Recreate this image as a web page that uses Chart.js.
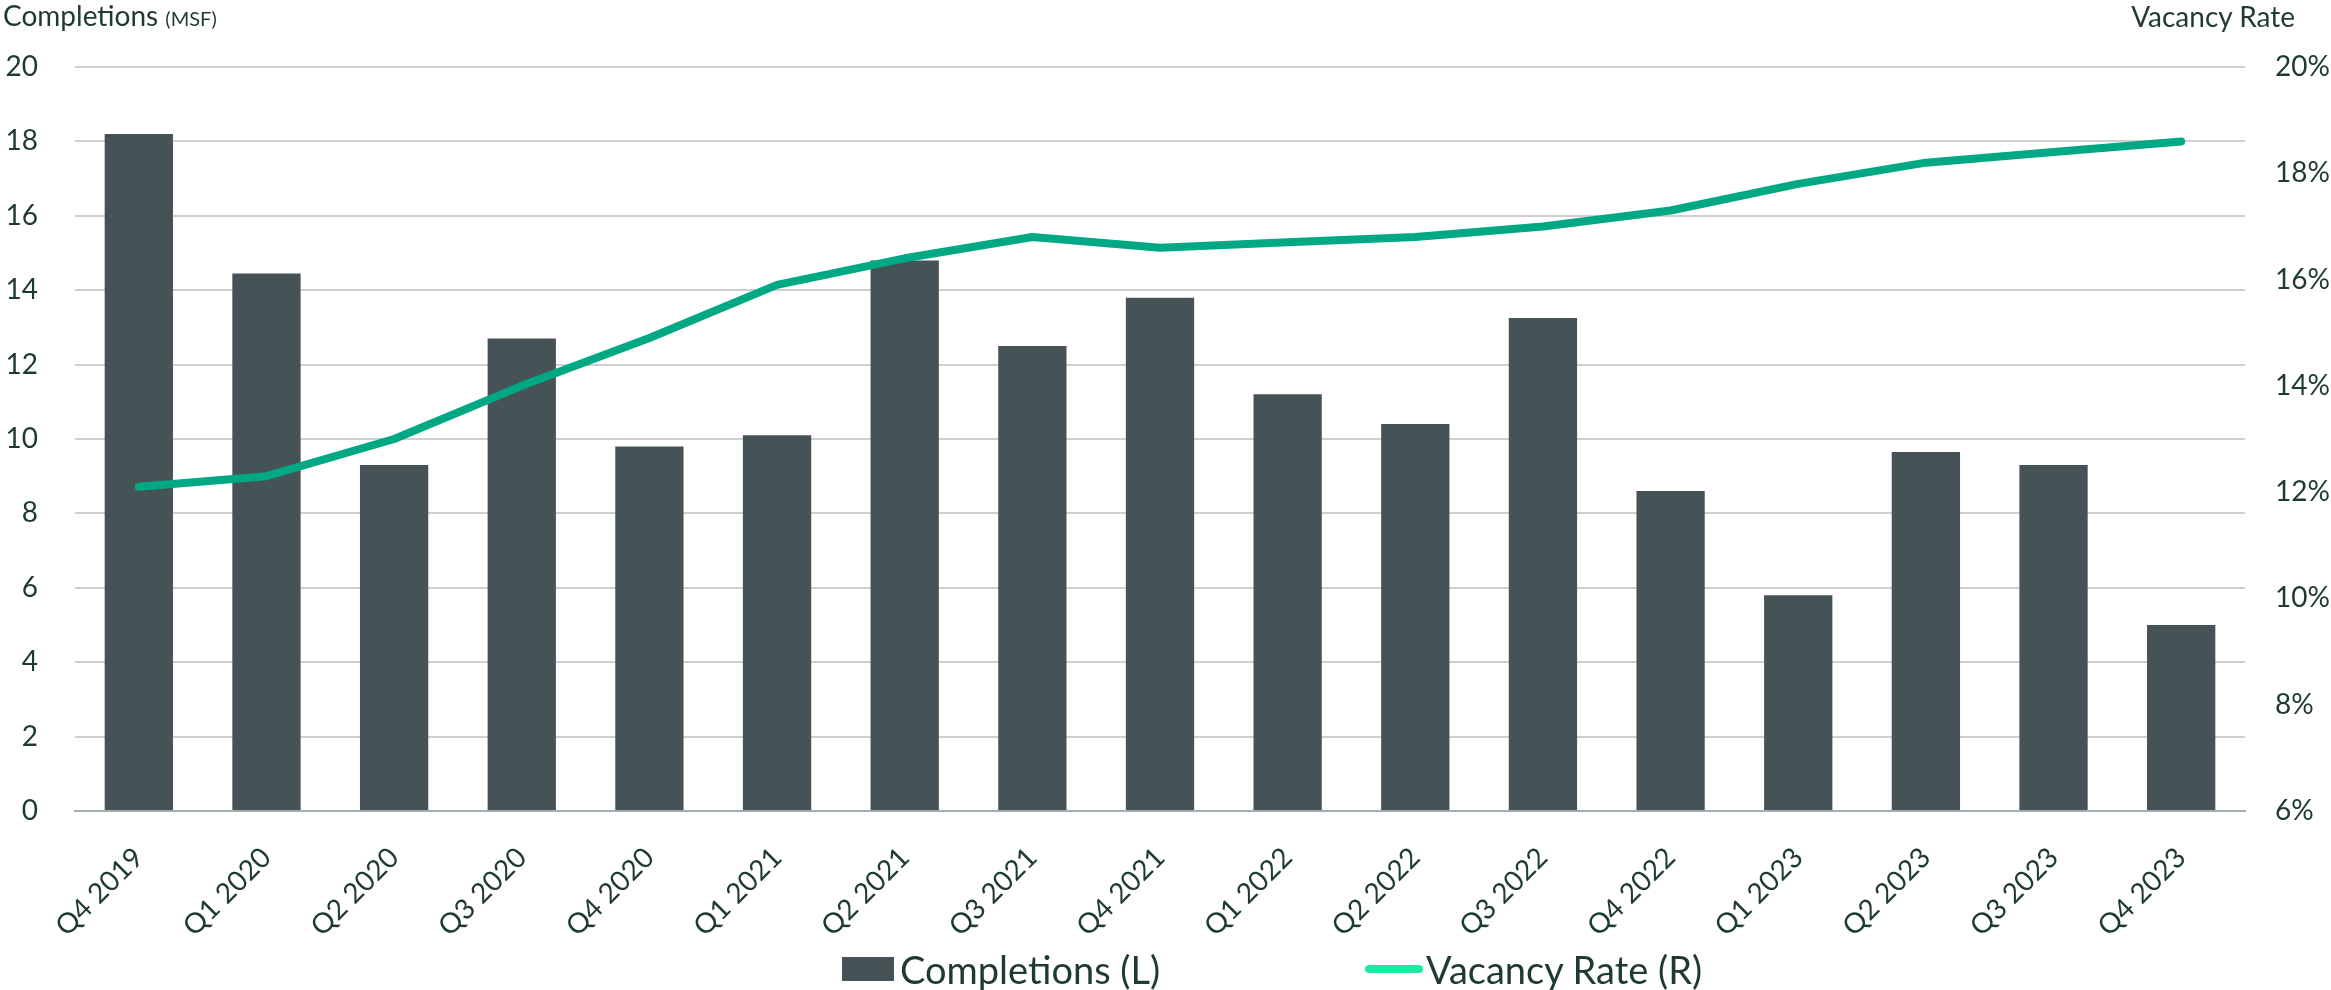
<!DOCTYPE html>
<html>
<head>
<meta charset="utf-8">
<script src="https://cdn.jsdelivr.net/npm/chart.js@4.4.1/dist/chart.umd.min.js"></script>
<style>
  html, body { margin: 0; padding: 0; background: #fff; }
  #wrap { position: relative; width: 2331px; height: 990px; font-family: Lato, sans-serif; color: #1e3a32; }
  #chart { position: absolute; left: 0; top: 0; }
  .ttl { position: absolute; white-space: nowrap; line-height: 1; }
  .leg-item { position: absolute; top: 950px; height: 38px; display: flex; align-items: center; font-size: 38px; line-height: 1; white-space: nowrap; }
</style>
</head>
<body>
<div id="wrap">
  <canvas id="chart" width="2331" height="990"></canvas>
  <div class="ttl" style="left:3px; top:1px; font-size:28px;">Completions <span style="font-size:20px;">(MSF)</span></div>
  <div class="ttl" style="right:36px; top:2px; font-size:28px;">Vacancy Rate</div>
  <div class="leg-item" style="left:842px;">
    <span style="display:inline-block; width:52px; height:24px; background:#455356; margin-right:6px;"></span><span>Completions (L)</span>
  </div>
  <div class="leg-item" style="left:1365px;">
    <span style="display:inline-block; width:58px; height:8px; border-radius:4px; background:#1de9a0; margin-right:3px;"></span><span>Vacancy Rate (R)</span>
  </div>
</div>
<script>
// ---- data ----
const quarters = [
  'Q4 2019','Q1 2020','Q2 2020','Q3 2020','Q4 2020','Q1 2021','Q2 2021','Q3 2021','Q4 2021',
  'Q1 2022','Q2 2022','Q3 2022','Q4 2022','Q1 2023','Q2 2023','Q3 2023','Q4 2023'
];
const completions = [18.2, 14.45, 9.3, 12.7, 9.8, 10.1, 14.8, 12.5, 13.8, 11.2, 10.4, 13.25, 8.6, 5.8, 9.65, 9.3, 5.0];
const vacancyRate = [12.1, 12.3, 13.0, 14.0, 14.9, 15.9, 16.4, 16.8, 16.6, 16.7, 16.8, 17.0, 17.3, 17.8, 18.2, 18.4, 18.6];
const leftTicks = [0, 2, 4, 6, 8, 10, 12, 14, 16, 18, 20];
const rightTicks = [6, 8, 10, 12, 14, 16, 18, 20];

const textColor = '#1e3a32';
const tickFont = { family: 'Lato', size: 28 };

const ctx = document.getElementById('chart').getContext('2d');
new Chart(ctx, {
  data: {
    labels: quarters,
    datasets: [
      {
        type: 'line', label: 'Vacancy Rate (R)', data: vacancyRate, yAxisID: 'yR',
        borderColor: '#00a884', borderWidth: 8, pointRadius: 0, tension: 0,
        borderCapStyle: 'round', borderJoinStyle: 'round', order: 0
      },
      {
        type: 'bar', label: 'Completions (L)', data: completions, yAxisID: 'yL',
        backgroundColor: '#455356', barPercentage: 0.535, categoryPercentage: 1, order: 1
      }
    ]
  },
  options: {
    responsive: false, animation: false,
    layout: { padding: { top: 67, left: 0, right: 0, bottom: 0 } },
    plugins: { legend: { display: false }, tooltip: { enabled: false } },
    scales: {
      x: {
        grid: { display: false },
        border: { display: true, color: '#a3acae', width: 2 },
        ticks: { color: textColor, font: tickFont, minRotation: 45, maxRotation: 45, padding: 22, autoSkip: false },
        afterFit: s => { s.height = 179; }
      },
      yL: {
        position: 'left', min: 0, max: 20,
        afterBuildTicks: s => { s.ticks = leftTicks.map(v => ({ value: v })); },
        grid: { color: c => c.tick && c.tick.value === 0 ? '#a3acae' : '#cfcfcf', lineWidth: 2, drawTicks: false },
        border: { display: false },
        ticks: { color: textColor, font: tickFont, padding: 37 },
        afterFit: s => { s.width = 75; }
      },
      yR: {
        position: 'right', min: 6, max: 20,
        afterBuildTicks: s => { s.ticks = rightTicks.map(v => ({ value: v })); },
        grid: { display: false, drawTicks: false },
        border: { display: false },
        ticks: { color: textColor, font: tickFont, padding: 30, callback: v => v + '%' },
        afterFit: s => { s.width = 86; }
      }
    }
  }
});
</script>
</body>
</html>
